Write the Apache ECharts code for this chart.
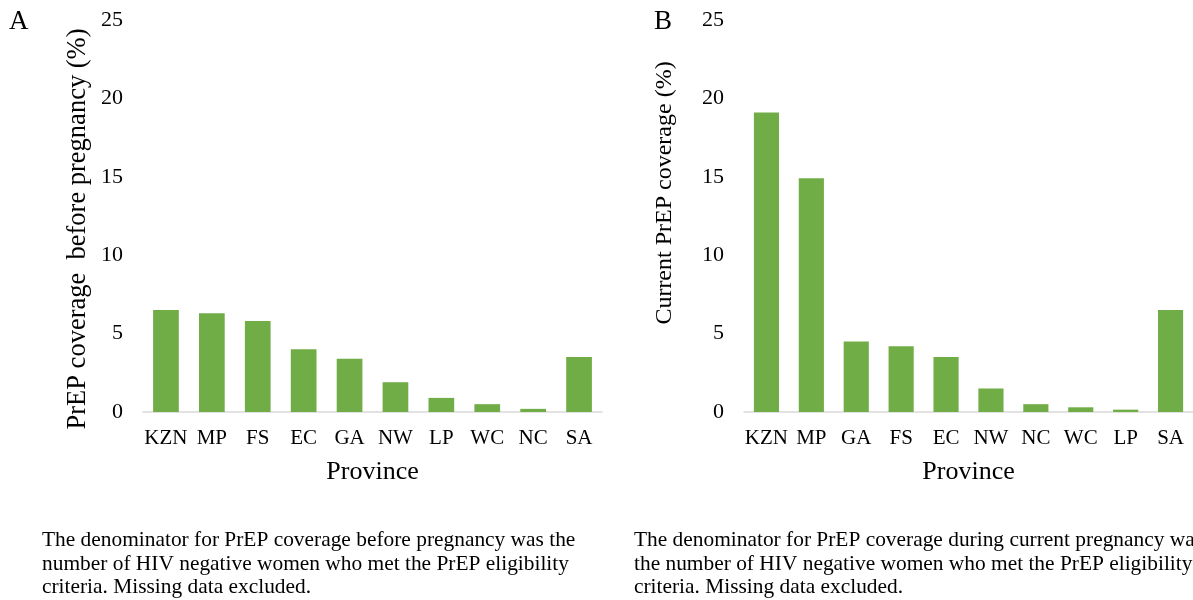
<!DOCTYPE html>
<html>
<head>
<meta charset="utf-8">
<script src="https://cdn.jsdelivr.net/npm/echarts@6/dist/echarts.min.js"></script>
<style>
  html, body { margin: 0; padding: 0; background: #fff; }
  #main { width: 1193px; height: 600px; }
</style>
</head>
<body>
<div id="main"></div>
<script>
// panel A - before pregnancy
var provincesA = ['KZN', 'MP', 'FS', 'EC', 'GA', 'NW', 'LP', 'WC', 'NC', 'SA'];
var coverageA = [6.5, 6.3, 5.8, 4.0, 3.4, 1.9, 0.9, 0.5, 0.2, 3.5];
// panel B - current pregnancy
var provincesB = ['KZN', 'MP', 'GA', 'FS', 'EC', 'NW', 'NC', 'WC', 'LP', 'SA'];
var coverageB = [19.1, 14.9, 4.5, 4.2, 3.5, 1.5, 0.5, 0.3, 0.15, 6.5];
var yTicks = [0, 5, 10, 15, 20, 25];

var serif = '"Liberation Serif", "Times New Roman", serif';
var green = '#70AD47';

var chart = echarts.init(document.getElementById('main'));

function xAxisFor(cats, gridIdx) {
  return {
    type: 'category',
    gridIndex: gridIdx,
    data: cats,
    name: 'Province',
    nameLocation: 'middle',
    nameGap: 47,
    nameTextStyle: { fontFamily: serif, fontSize: 26, color: '#000' },
    axisLine: { lineStyle: { color: '#D9D9D9', width: 1.5 } },
    axisTick: { show: false },
    axisLabel: { fontFamily: serif, fontSize: 21, color: '#000', margin: 16, interval: 0 }
  };
}

function yAxisFor(gridIdx) {
  return {
    type: 'value',
    gridIndex: gridIdx,
    min: yTicks[0],
    max: yTicks[yTicks.length - 1],
    interval: 5,
    axisLine: { show: false },
    axisTick: { show: false },
    splitLine: { show: false },
    axisLabel: { fontFamily: serif, fontSize: 22, color: '#000', margin: 20 }
  };
}

var option = {
  animation: false,
  backgroundColor: '#fff',
  grid: [
    { left: 143, width: 459, top: 20, height: 392 },
    { left: 744, width: 458, top: 20, height: 392 }
  ],
  xAxis: [xAxisFor(provincesA, 0), xAxisFor(provincesB, 1)],
  yAxis: [yAxisFor(0), yAxisFor(1)],
  series: [
    {
      type: 'bar', xAxisIndex: 0, yAxisIndex: 0,
      data: coverageA, barCategoryGap: '44%',
      itemStyle: { color: green }
    },
    {
      type: 'bar', xAxisIndex: 1, yAxisIndex: 1,
      data: coverageB, barCategoryGap: '44%',
      itemStyle: { color: green }
    }
  ],
  graphic: [
    { type: 'text', left: 9, top: 8, style: { text: 'A', font: '27px ' + serif, fill: '#000' } },
    { type: 'text', left: 654, top: 8, style: { text: 'B', font: '27px ' + serif, fill: '#000' } },
    {
      type: 'text', x: 78, y: 229, rotation: Math.PI / 2,
      style: { text: 'PrEP coverage  before pregnancy (%)', font: '26.5px ' + serif, fill: '#000', align: 'center', verticalAlign: 'middle' }
    },
    {
      type: 'text', x: 665, y: 193, rotation: Math.PI / 2,
      style: { text: 'Current PrEP coverage (%)', font: '24px ' + serif, fill: '#000', align: 'center', verticalAlign: 'middle' }
    },
    {
      type: 'text', left: 42, top: 529,
      style: {
        text: 'The denominator for PrEP coverage before pregnancy was the\nnumber of HIV negative women who met the PrEP eligibility\ncriteria. Missing data excluded.',
        font: '21.4px ' + serif, fill: '#000', lineHeight: 23.5
      }
    },
    {
      type: 'text', left: 634, top: 529,
      style: {
        text: 'The denominator for PrEP coverage during current pregnancy was\nthe number of HIV negative women who met the PrEP eligibility\ncriteria. Missing data excluded.',
        font: '21.4px ' + serif, fill: '#000', lineHeight: 23.5
      }
    }
  ]
};

chart.setOption(option);
</script>
</body>
</html>
